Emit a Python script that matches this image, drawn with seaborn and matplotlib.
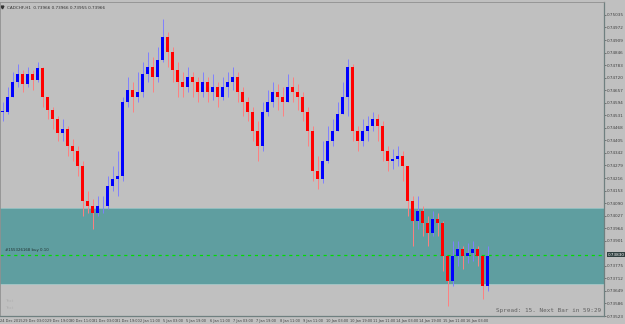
# Import libraries =============================================================
import numpy as np
import pandas as pd
import matplotlib
matplotlib.use('Agg')
import matplotlib.pyplot as plt
import seaborn as sns

# Data (~3 H1 bars per entry) ==================================================
close = [0.74550, 0.74625, 0.74700, 0.74740, 0.74690, 0.74740, 0.74710, 0.74770, 0.74625, 0.74560,
         0.74510, 0.74440, 0.74460, 0.74375, 0.74350, 0.74275, 0.74100, 0.74075, 0.74040, 0.74075,
         0.74075, 0.74175, 0.74210, 0.74225, 0.74600, 0.74660, 0.74625, 0.74650, 0.74740, 0.74775,
         0.74725, 0.74810, 0.74925, 0.74850, 0.74760, 0.74700, 0.74675, 0.74725, 0.74700, 0.74650,
         0.74700, 0.74650, 0.74675, 0.74625, 0.74675, 0.74700, 0.74725, 0.74650, 0.74600, 0.74550,
         0.74450, 0.74375, 0.74550, 0.74600, 0.74650, 0.74625, 0.74600, 0.74675, 0.74650, 0.74625,
         0.74550, 0.74450, 0.74250, 0.74210, 0.74300, 0.74400, 0.74450, 0.74540, 0.74625, 0.74775,
         0.74450, 0.74400, 0.74450, 0.74475, 0.74510, 0.74475, 0.74350, 0.74300, 0.74310, 0.74325,
         0.74275, 0.74100, 0.74000, 0.74050, 0.73990, 0.73940, 0.74010, 0.73990, 0.73825, 0.73700,
         0.73825, 0.73860, 0.73825, 0.73840, 0.73860, 0.73825, 0.73675, 0.73825]
high = [0.74600, 0.74675, 0.74750, 0.74790, 0.74760, 0.74775, 0.74760, 0.74800, 0.74775, 0.74625,
        0.74575, 0.74525, 0.74510, 0.74475, 0.74410, 0.74375, 0.74300, 0.74150, 0.74110, 0.74125,
        0.74125, 0.74225, 0.74275, 0.74350, 0.74625, 0.74725, 0.74700, 0.74750, 0.74800, 0.74850,
        0.74825, 0.74875, 0.75015, 0.74950, 0.74875, 0.74800, 0.74750, 0.74775, 0.74750, 0.74725,
        0.74750, 0.74725, 0.74740, 0.74700, 0.74725, 0.74750, 0.74775, 0.74750, 0.74675, 0.74625,
        0.74575, 0.74500, 0.74600, 0.74660, 0.74700, 0.74690, 0.74675, 0.74740, 0.74725, 0.74690,
        0.74650, 0.74575, 0.74475, 0.74325, 0.74400, 0.74475, 0.74510, 0.74600, 0.74700, 0.74815,
        0.74790, 0.74475, 0.74510, 0.74525, 0.74550, 0.74540, 0.74500, 0.74375, 0.74360, 0.74375,
        0.74350, 0.74275, 0.74125, 0.74125, 0.74075, 0.74025, 0.74050, 0.74040, 0.74000, 0.73825,
        0.73900, 0.73900, 0.73875, 0.73890, 0.73900, 0.73875, 0.73825, 0.73875]
low = [0.74500, 0.74540, 0.74625, 0.74675, 0.74650, 0.74675, 0.74660, 0.74700, 0.74575, 0.74510,
       0.74460, 0.74400, 0.74400, 0.74325, 0.74300, 0.74225, 0.74025, 0.74040, 0.73960, 0.74025,
       0.74040, 0.74060, 0.74150, 0.74125, 0.74200, 0.74575, 0.74550, 0.74600, 0.74625, 0.74700,
       0.74650, 0.74700, 0.74800, 0.74775, 0.74700, 0.74625, 0.74625, 0.74650, 0.74625, 0.74600,
       0.74625, 0.74600, 0.74610, 0.74575, 0.74610, 0.74625, 0.74660, 0.74600, 0.74525, 0.74500,
       0.74400, 0.74300, 0.74350, 0.74525, 0.74575, 0.74560, 0.74525, 0.74600, 0.74600, 0.74560,
       0.74500, 0.74375, 0.74200, 0.74160, 0.74190, 0.74290, 0.74375, 0.74450, 0.74540, 0.74525,
       0.74400, 0.74350, 0.74375, 0.74400, 0.74450, 0.74400, 0.74300, 0.74250, 0.74260, 0.74275,
       0.74200, 0.74025, 0.73875, 0.73960, 0.73925, 0.73875, 0.73925, 0.73925, 0.73750, 0.73575,
       0.73675, 0.73775, 0.73760, 0.73790, 0.73800, 0.73775, 0.73610, 0.73650]

zone_low, zone_high = 0.73685, 0.74065
order_price = 0.73830
bid_price = 0.73830

price_ticks = [0.75035, 0.74972, 0.74909, 0.74846, 0.74783, 0.74720, 0.74657, 0.74594,
               0.74531, 0.74468, 0.74405, 0.74342, 0.74279, 0.74216, 0.74153, 0.74090,
               0.74027, 0.73964, 0.73901, 0.73775, 0.73712, 0.73649, 0.73586, 0.73523]
time_labels = ['24 Dec 2015', '29 Dec 03:00', '29 Dec 19:00', '30 Dec 11:00', '31 Dec 03:00',
               '31 Dec 19:00', '2 Jan 11:00', '5 Jan 03:00', '5 Jan 19:00', '6 Jan 11:00',
               '7 Jan 03:00', '7 Jan 19:00', '8 Jan 11:00', '9 Jan 11:00', '10 Jan 03:00',
               '10 Jan 19:00', '11 Jan 11:00', '14 Jan 03:00', '14 Jan 19:00', '15 Jan 11:00',
               '16 Jan 03:00']

# Build frame ==================================================================
df = pd.DataFrame({'close': close, 'high': high, 'low': low})
df['open'] = df['close'].shift(1).fillna(df['close'].iloc[0])
df['x'] = np.arange(len(df))
df['up'] = df['close'] >= df['open']

# Style ========================================================================
sns.set_theme(style='white')
plt.rcParams['font.family'] = ['DejaVu Sans']
bg = '#c0c0c0'

fig = plt.figure(figsize=(6.25, 3.24), dpi=100, facecolor=bg)
ax = fig.add_axes([0.0, 8 / 324, 604 / 625, 314 / 324])
ax.set_facecolor(bg)

# Zone + order line ============================================================
ax.axhspan(zone_low, zone_high, color='#5f9ea0', zorder=0, lw=0)
ax.axhline(zone_high, color='#9cc4c4', lw=0.6, zorder=0.5)
ax.axhline(zone_low, color='#9cc4c4', lw=0.6, zorder=0.5)
ax.axhline(order_price, color='#00dd00', lw=0.9, ls=(0, (2.5, 3)), zorder=1.5)
ax.text(0.5, order_price + 0.00012, '#155326168 buy 0.10', fontsize=2.8,
        color='#203030', va='bottom', ha='left')

# Bars =========================================================================
for up, col, wick in [(True, '#0000ff', '#8080ff'), (False, '#ff0000', '#ff8080')]:
    d = df[df['up'] == up]
    ax.vlines(d['x'], d['low'], d['high'], color=wick, lw=0.7, zorder=2)
    h = (d['close'] - d['open']).where((d['close'] - d['open']).abs() > 0.00002, 0.00002)
    ax.bar(d['x'], h, bottom=d['open'], width=0.45, color=col, lw=0, zorder=3)

# Axes =========================================================================
ax.set_xlim(-0.5, 120.3)
ax.set_ylim(0.73530, 0.75100)
ax.yaxis.tick_right()
ax.set_yticks(price_ticks)
ax.set_yticklabels([f'{p:.5f}' for p in price_ticks], fontsize=3.0, color='#404040')
label_pos = np.arange(len(time_labels)) * 4.66 - 0.5
ax.set_xticks(label_pos)
ax.set_xticklabels(time_labels, fontsize=2.5, color='#404040', ha='left')
ax.tick_params(axis='both', which='both', length=1.5, width=0.5, color='#505050', pad=0.8)
for name, sp in ax.spines.items():
    sp.set_color('#6f8080' if name in ('right', 'bottom') else '#909090')
    sp.set_linewidth(0.9 if name in ('right', 'bottom') else 0.6)

# Current price box
ax.text(1.006, bid_price, f'{bid_price:.5f}', transform=ax.get_yaxis_transform(),
        fontsize=3.0, color='white', va='center', ha='left',
        bbox=dict(boxstyle='square,pad=0.15', fc='#2f3f3f', ec='none'))

# Texts ========================================================================
ax.text(0.012, 0.988, 'CADCHF,H1  0.73966 0.73966 0.73955 0.73966', transform=ax.transAxes,
        fontsize=3.0, color='#303030', va='top', ha='left')
ax.plot([0.004], [0.984], marker='v', ms=2.0, color='#303030', transform=ax.transAxes)
ax.text(0.995, 0.008, 'Spread: 15. Next Bar in 59:29', transform=ax.transAxes,
        fontsize=4.3, color='#606060', va='bottom', ha='right', family='DejaVu Sans Mono')
ax.text(0.008, 0.045, 'Text', transform=ax.transAxes, fontsize=3.0, color='#b0b0b0')
ax.text(0.008, 0.022, 'Text', transform=ax.transAxes, fontsize=3.0, color='#b0b0b0')

fig.savefig('out.png', dpi=100, facecolor=bg)
